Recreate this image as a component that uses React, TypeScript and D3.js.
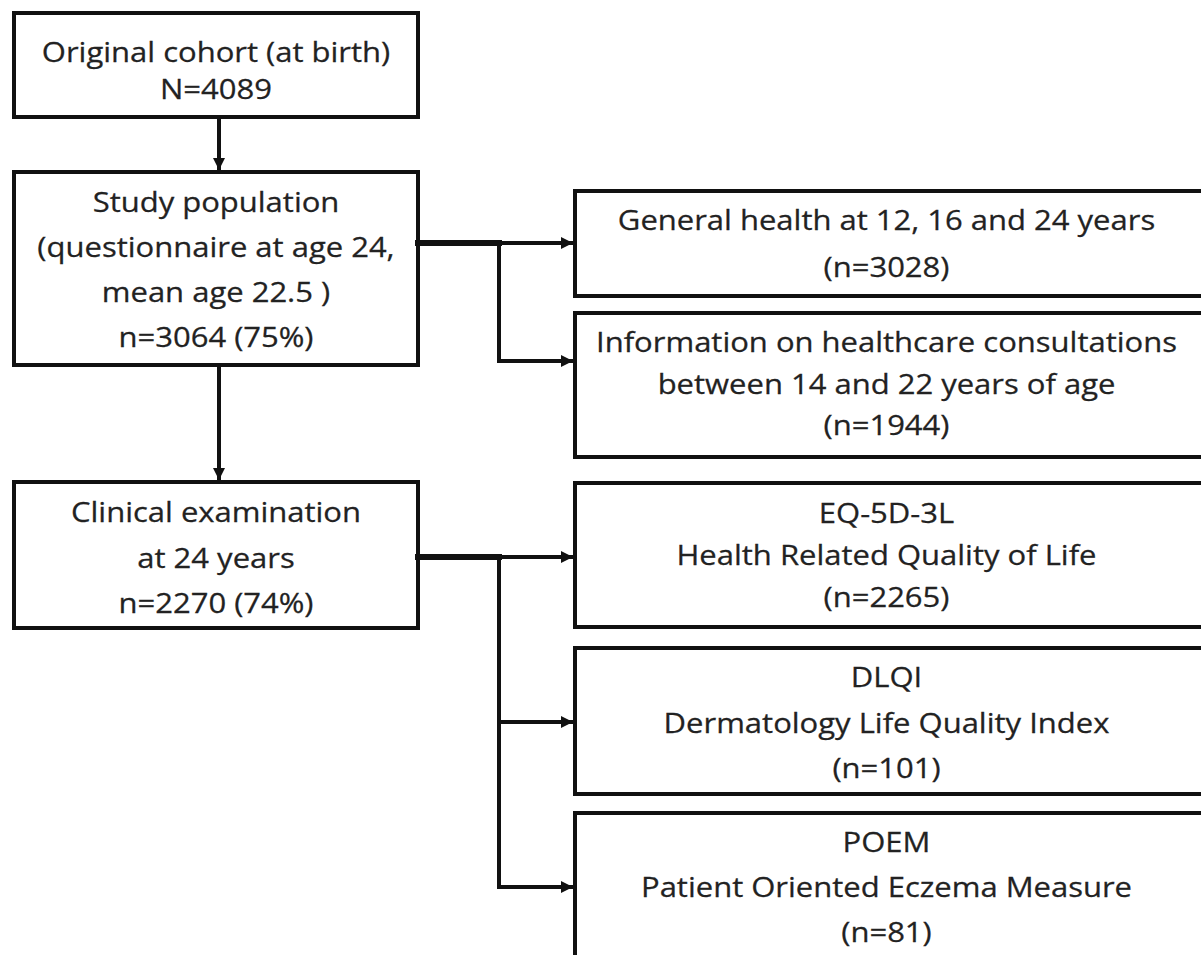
import React from "react";
import * as d3 from "d3";

// --- flowchart content ---
const leftBoxes = [
  ["Original cohort (at birth)", "N=4089"],
  ["Study population", "(questionnaire at age 24,", "mean age 22.5 )", "n=3064 (75%)"],
  ["Clinical examination", "at 24 years", "n=2270 (74%)"],
];

const rightBoxes = [
  ["General health at 12, 16 and 24 years", "(n=3028)"],
  ["Information on healthcare consultations", "between 14 and 22 years of age", "(n=1944)"],
  ["EQ-5D-3L", "Health Related Quality of Life", "(n=2265)"],
  ["DLQI", "Dermatology Life Quality Index", "(n=101)"],
  ["POEM", "Patient Oriented Eczema Measure", "(n=81)"],
];

// which left box feeds which right boxes
const branches = [
  { from: 1, to: [0, 1] },
  { from: 2, to: [2, 3, 4] },
];

// --- layout (pixels) ---
const W = 1201;
const H = 955;
const leftCol = { x0: 14, x1: 418 };
const rightCol = { x0: 575, x1: 1198 };
const branchX = 499;
const leftRows = [
  { y0: 13, y1: 117, first: 49, gap: 37 },
  { y0: 172, y1: 365, first: 40, gap: 45 },
  { y0: 482, y1: 628, first: 40, gap: 45.5 },
];
const rightRows = [
  { y0: 191, y1: 296, first: 39, gap: 47 },
  { y0: 313, y1: 457, first: 39, gap: 41.5 },
  { y0: 483, y1: 627, first: 40, gap: 42 },
  { y0: 648, y1: 794, first: 39, gap: 45.5 },
  { y0: 813, y1: 975, first: 39, gap: 45 },
];
// y where each connector leaves a left box / enters a right box
const outY = [null, 243, 557];
const inY = [243, 361, 557, 722, 887];

const ink = "#111";
const textColor = "#222";
const font = "'Open Sans', Lato, sans-serif";
const fontSize = 26.5;
const stretch = 1.17; // source text is set wide

function Box({ x0, x1, row, lines, clipRight }) {
  const cx = (x0 + x1) / 2;
  return (
    <g>
      <rect
        x={x0}
        y={row.y0}
        width={x1 - x0 + (clipRight ? 20 : 0)}
        height={row.y1 - row.y0}
        fill="#fff"
        stroke={ink}
        strokeWidth={4}
      />
      {lines.map((t, i) => (
        <text
          key={i}
          transform={`translate(${cx},${row.y0 + row.first + i * row.gap}) scale(${stretch},1)`}
          textAnchor="middle"
          fontFamily={font}
          fontSize={fontSize}
          fill={textColor}
          stroke={textColor}
          strokeWidth={0.25}
        >
          {t}
        </text>
      ))}
    </g>
  );
}

export default function App() {
  const line = d3.line();
  const leftCx = 219;

  const vertArrows = leftRows.slice(1).map((r, i) => ({
    d: line([
      [leftCx, leftRows[i].y1],
      [leftCx, r.y0 - 2],
    ]),
  }));

  const connectors = [];
  branches.forEach((b) => {
    const y = outY[b.from];
    // thick stub from the left box to the branch line
    connectors.push({
      d: line([
        [leftCol.x1, y],
        [branchX, y],
      ]),
      w: 6,
      arrow: false,
    });
    const ys = b.to.map((k) => inY[k]);
    connectors.push({
      d: line([
        [branchX, d3.min(ys)],
        [branchX, d3.max(ys)],
      ]),
      w: 4,
      arrow: false,
    });
    ys.forEach((yy) => {
      connectors.push({
        d: line([
          [branchX, yy],
          [rightCol.x0 - 2, yy],
        ]),
        w: 4,
        arrow: true,
      });
    });
  });

  return (
    <svg
      width={W}
      height={H}
      style={{ position: "absolute", left: 0, top: 0, background: "#fff" }}
    >
      <defs>
        <marker
          id="arrow"
          viewBox="0 0 10 10"
          refX={10}
          refY={5}
          markerWidth={12}
          markerHeight={12}
          markerUnits="userSpaceOnUse"
          orient="auto"
        >
          <path d="M0,0 L10,5 L0,10 Z" fill={ink} />
        </marker>
      </defs>

      {leftBoxes.map((lines, i) => (
        <Box key={"l" + i} x0={leftCol.x0} x1={leftCol.x1} row={leftRows[i]} lines={lines} />
      ))}
      {rightBoxes.map((lines, i) => (
        <Box key={"r" + i} x0={rightCol.x0} x1={rightCol.x1} row={rightRows[i]} lines={lines} clipRight />
      ))}

      {vertArrows.map((a, i) => (
        <path key={"v" + i} d={a.d} stroke={ink} strokeWidth={4} fill="none" markerEnd="url(#arrow)" />
      ))}
      {connectors.map((c, i) => (
        <path
          key={"c" + i}
          d={c.d}
          stroke={ink}
          strokeWidth={c.w}
          strokeLinecap="square"
          fill="none"
          markerEnd={c.arrow ? "url(#arrow)" : undefined}
        />
      ))}
    </svg>
  );
}
